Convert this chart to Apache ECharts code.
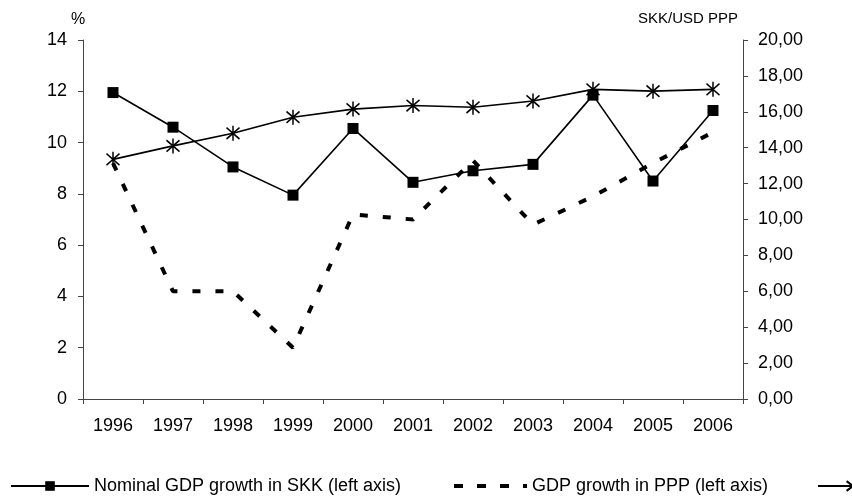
<!DOCTYPE html>
<html>
<head>
<meta charset="utf-8">
<script src="https://cdn.jsdelivr.net/npm/echarts@6/dist/echarts.min.js"></script>
<style>
  html, body { margin: 0; padding: 0; background: #fff; }
  #chart { width: 852px; height: 499px; }
</style>
</head>
<body>
<div id="chart"></div>
<script>
// Years on the category axis
const years = ['1996', '1997', '1998', '1999', '2000', '2001', '2002', '2003', '2004', '2005', '2006'];

// Series names
const nameNominal = 'Nominal GDP growth in SKK (left axis)';
const namePPP = 'GDP growth in PPP (left axis)';
const nameRate = 'SKK/USD PPP (right axis)';

// Nominal GDP growth in SKK, % (left axis)
const nominalGrowth = [11.95, 10.6, 9.05, 7.95, 10.55, 8.45, 8.9, 9.15, 11.85, 8.5, 11.25];
// GDP growth in PPP, % (left axis)
const pppGrowth = [9.2, 4.2, 4.2, 2.0, 7.2, 7.0, 9.3, 6.8, 7.9, 9.2, 10.4];
// SKK/USD purchasing power parity (right axis)
const pppRate = [13.35, 14.1, 14.8, 15.7, 16.15, 16.35, 16.25, 16.6, 17.25, 17.15, 17.25];

// Axis scales
const leftAxis = { min: 0, max: 14, step: 2 };
const rightAxis = { min: 0, max: 20, step: 2 };

const FONT = '"Liberation Sans", Arial, sans-serif';
const AXIS_COLOR = '#444';

// Asterisk marker: vertical stroke crossed by an X
const asterisk = 'path://M50 0L50 100M8 12L92 88M8 88L92 12';

const chart = echarts.init(document.getElementById('chart'), null, { renderer: 'canvas' });

const legendBase = {
  orient: 'horizontal',
  top: 472,
  itemHeight: 12,
  selectedMode: false,
  textStyle: { fontFamily: FONT, fontSize: 18, color: '#000' }
};

chart.setOption({
  animation: false,
  backgroundColor: '#fff',
  textStyle: { fontFamily: FONT },
  grid: { left: 83, right: 109, top: 40, bottom: 100, containLabel: false },
  graphic: [
    { type: 'text', left: 71, top: 12, style: { text: '%', font: '16px ' + FONT, fill: '#000' } },
    { type: 'text', left: 638, top: 11, style: { text: 'SKK/USD PPP', font: '15px ' + FONT, fill: '#000' } }
  ],
  legend: [
    Object.assign({}, legendBase, { left: 5, itemWidth: 78, data: [nameNominal] }),
    Object.assign({}, legendBase, {
      left: 447, itemWidth: 73,
      lineStyle: { width: 4, type: [9, 14] },
      data: [{ name: namePPP, itemStyle: { color: 'rgba(0,0,0,0)', borderColor: 'rgba(0,0,0,0)', borderWidth: 0 } }]
    }),
    Object.assign({}, legendBase, { left: 812, itemWidth: 70, itemHeight: 16, data: [nameRate] })
  ],
  xAxis: {
    type: 'category',
    data: years,
    boundaryGap: true,
    axisLine: { lineStyle: { color: AXIS_COLOR, width: 1 } },
    axisTick: { show: true, length: 5, alignWithLabel: false, lineStyle: { color: AXIS_COLOR } },
    axisLabel: { color: '#000', fontSize: 18, fontFamily: FONT, margin: 18 },
    splitLine: { show: false }
  },
  yAxis: [
    {
      type: 'value',
      position: 'left',
      min: leftAxis.min, max: leftAxis.max, interval: leftAxis.step,
      axisLine: { show: true, lineStyle: { color: AXIS_COLOR, width: 1 } },
      axisTick: { show: true, length: 5, lineStyle: { color: AXIS_COLOR } },
      axisLabel: { color: '#000', fontSize: 18, fontFamily: FONT, margin: 16 },
      splitLine: { show: false }
    },
    {
      type: 'value',
      position: 'right',
      min: rightAxis.min, max: rightAxis.max, interval: rightAxis.step,
      axisLine: { show: true, lineStyle: { color: AXIS_COLOR, width: 1 } },
      axisTick: { show: true, length: 5, lineStyle: { color: AXIS_COLOR } },
      axisLabel: {
        color: '#000', fontSize: 18, fontFamily: FONT, margin: 15,
        formatter: v => v.toFixed(2).replace('.', ',')
      },
      splitLine: { show: false }
    }
  ],
  series: [
    {
      name: nameNominal,
      type: 'line',
      yAxisIndex: 0,
      data: nominalGrowth,
      symbol: 'rect',
      symbolSize: 11,
      showAllSymbol: true,
      lineStyle: { color: '#000', width: 1.6 },
      itemStyle: { color: '#000' },
      z: 3
    },
    {
      name: namePPP,
      type: 'line',
      yAxisIndex: 0,
      data: pppGrowth,
      symbol: 'none',
      lineStyle: { color: '#000', width: 4, type: [8, 15] },
      itemStyle: { color: '#000' },
      z: 2
    },
    {
      name: nameRate,
      type: 'line',
      yAxisIndex: 1,
      data: pppRate,
      symbol: asterisk,
      symbolSize: [13, 15],
      showAllSymbol: true,
      lineStyle: { color: '#000', width: 1.6 },
      itemStyle: { color: '#000', borderColor: '#000', borderWidth: 1.6 },
      z: 4
    }
  ]
});
</script>
</body>
</html>
